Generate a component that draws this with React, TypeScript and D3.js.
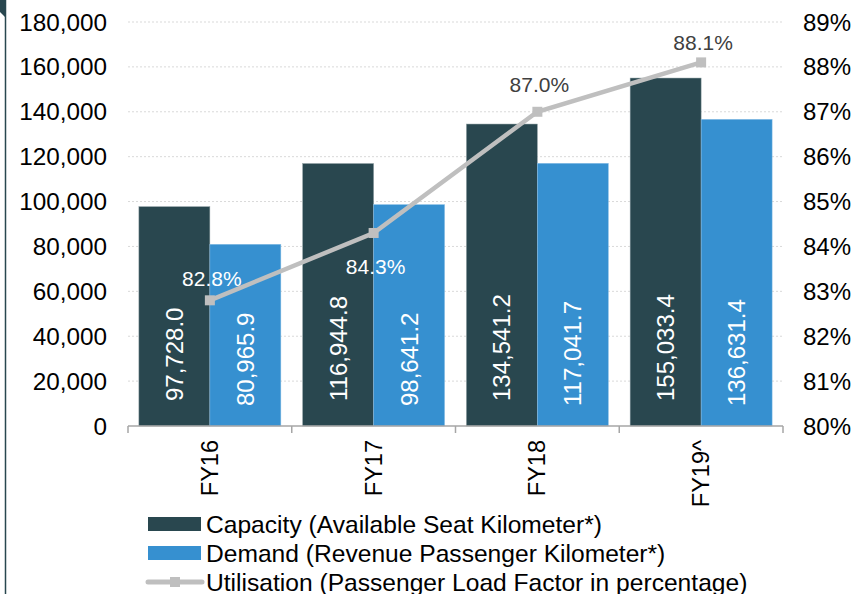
import React from "react";
import * as d3 from "d3";

const categories = ["FY16", "FY17", "FY18", "FY19^"];
const capacity = [97728.0, 116944.8, 134541.2, 155033.4];
const demand = [80965.9, 98641.2, 117041.7, 136631.4];
const loadFactor = [82.8, 84.3, 87.0, 88.1];
const leftTicks = [0, 20000, 40000, 60000, 80000, 100000, 120000, 140000, 160000, 180000];
const rightTicks = [80, 81, 82, 83, 84, 85, 86, 87, 88, 89];
const legendLabels = [
  "Capacity (Available Seat Kilometer*)",
  "Demand (Revenue Passenger Kilometer*)",
  "Utilisation (Passenger Load Factor in percentage)",
];

// styling
const W = 855, H = 594;
const DARK = "#29474F";
const BLUE = "#3690D0";
const LINE = "#BFBFBF";
const FONT = "Liberation Sans, Arial, sans-serif";
const lfLabelOffset = [-22, 34, -27, -20];
const lfLabelColor = ["#FFFFFF", "#FFFFFF", "#404040", "#404040"];

export default function App() {
  const x = d3.scaleBand<string>().domain(categories).range([128, 783]).paddingInner(0.133).paddingOuter(0.0665);
  const sub = d3.scaleBand<string>().domain(["cap", "dem"]).range([0, x.bandwidth()]);
  const yL = d3.scaleLinear().domain([0, 180000]).range([426, 22]);
  const yR = d3.scaleLinear().domain([80, 89]).range([426, 22]);
  const fmtL = d3.format(",");
  const fmtV = d3.format(",.1f");
  const cx = (c: string) => (x(c) as number) + x.bandwidth() / 2;
  const line = d3.line<number>().x((_, i) => cx(categories[i])).y((d) => yR(d));
  const step = x.step();
  const x0 = 128, x1 = 783;
  const boundaries = d3.range(categories.length + 1).map((i) => x0 + i * step);

  return (
    <svg width={W} height={H} style={{ position: "absolute", left: 0, top: 0, background: "#fff" }} fontFamily={FONT}>
      <rect x={0} y={0} width={W} height={H} fill="#fff" />
      {/* left edge decoration */}
      <polygon points="0,0 6,0 6,18 0,12" fill={DARK} />
      <line x1={5.5} y1={0} x2={5.5} y2={H} stroke={DARK} strokeWidth={1.5} />

      {/* gridlines */}
      {leftTicks.slice(1).map((t) => (
        <line key={t} x1={x0} x2={x1} y1={yL(t)} y2={yL(t)} stroke="#D9D9D9" strokeWidth={1} strokeDasharray="2,2" />
      ))}

      {/* bars */}
      {categories.map((c, i) => (
        <g key={c}>
          <rect x={(x(c) as number) + (sub("cap") as number)} y={yL(capacity[i])} width={sub.bandwidth()} height={yL(0) - yL(capacity[i])} fill={DARK} stroke="#8FA0A4" strokeWidth={0.5} />
          <rect x={(x(c) as number) + (sub("dem") as number)} y={yL(demand[i])} width={sub.bandwidth()} height={yL(0) - yL(demand[i])} fill={BLUE} stroke="#8CC0E6" strokeWidth={0.5} />
        </g>
      ))}

      {/* bar value labels */}
      {categories.map((c, i) => {
        const xc = (x(c) as number) + (sub("cap") as number) + sub.bandwidth() / 2;
        const xd = (x(c) as number) + (sub("dem") as number) + sub.bandwidth() / 2;
        const yc = yL(0) - 25;
        const yd = yL(0) - 20;
        return (
          <g key={c} fill="#fff" fontSize={24}>
            <text transform={`translate(${xc},${yc}) rotate(-90)`} dominantBaseline="central" textAnchor="start">{fmtV(capacity[i])}</text>
            <text transform={`translate(${xd},${yd}) rotate(-90)`} dominantBaseline="central" textAnchor="start">{fmtV(demand[i])}</text>
          </g>
        );
      })}

      {/* axis line and ticks */}
      <line x1={x0} x2={x1} y1={yL(0)} y2={yL(0)} stroke="#A6A6A6" strokeWidth={1.5} />
      {boundaries.map((b, i) => (
        <line key={i} x1={b} x2={b} y1={yL(0)} y2={yL(0) + 7} stroke="#A6A6A6" strokeWidth={1.5} />
      ))}

      {/* line series */}
      <path d={line(loadFactor) || ""} fill="none" stroke={LINE} strokeWidth={4.5} />
      {loadFactor.map((v, i) => (
        <rect key={i} x={cx(categories[i]) - 5} y={yR(v) - 5} width={10} height={10} fill={LINE} />
      ))}
      {loadFactor.map((v, i) => (
        <text key={i} x={cx(categories[i]) + 2} y={yR(v) + lfLabelOffset[i]} textAnchor="middle" dominantBaseline="central" fontSize={21} fill={lfLabelColor[i]}>
          {v.toFixed(1)}%
        </text>
      ))}

      {/* left axis labels */}
      {leftTicks.map((t) => (
        <text key={t} x={107} y={yL(t)} textAnchor="end" dominantBaseline="central" fontSize={24.3} fill="#000">{fmtL(t)}</text>
      ))}
      {/* right axis labels */}
      {rightTicks.map((t) => (
        <text key={t} x={803} y={yR(t)} textAnchor="start" dominantBaseline="central" fontSize={24} fill="#000">{t}%</text>
      ))}

      {/* category labels */}
      {categories.map((c) => (
        <text key={c} transform={`translate(${cx(c)},440) rotate(-90)`} textAnchor="end" dominantBaseline="central" fontSize={23.5} fill="#000">{c}</text>
      ))}

      {/* legend */}
      <rect x={148} y={517} width={53} height={14} fill={DARK} />
      <rect x={148} y={546} width={53} height={14} fill={BLUE} />
      <line x1={148} x2={202} y1={582} y2={582} stroke={LINE} strokeWidth={5} strokeLinecap="round" />
      <rect x={170} y={577} width={10} height={10} fill={LINE} />
      {legendLabels.map((l, i) => (
        <text key={l} x={206} y={524 + i * 29} dominantBaseline="central" fontSize={24.6} fill="#000">{l}</text>
      ))}
    </svg>
  );
}
